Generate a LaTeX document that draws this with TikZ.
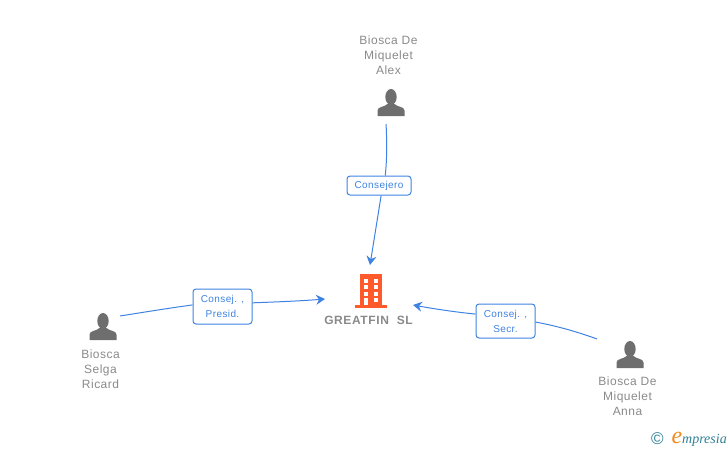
\documentclass[tikz,border=0pt]{standalone}
\usepackage{fontspec}
\setmainfont{Liberation Sans}
\newfontfamily\logofont{Liberation Serif}
\usetikzlibrary{arrows.meta}
\definecolor{linkblue}{HTML}{3F83E2}
\definecolor{namegray}{HTML}{8A8A8A}
\definecolor{icongray}{HTML}{6E6E6E}
\definecolor{towerred}{HTML}{FF5A2C}
\definecolor{logoteal}{HTML}{2F7F96}
\definecolor{logoorange}{HTML}{F08A1D}
\tikzset{
  personname/.style={text=namegray,align=center,inner sep=0pt,font=\fontsize{12}{15}\selectfont\addfontfeature{LetterSpace=4}},
  rolebox/.style={draw=linkblue,fill=white,line width=1pt,rounded corners=3pt,text=linkblue,align=center,inner sep=0pt,font=\fontsize{10}{15}\selectfont\addfontfeature{LetterSpace=4}},
  linkline/.style={draw=linkblue,line width=1pt},
  linkarrow/.style={linkline,-{Stealth[length=9pt,width=10pt,inset=3pt]}},
  pics/personicon/.style={code={
    \fill[icongray] (0,-6) ellipse (5.7 and 8);
    \fill[icongray] (-13.5,13) -- (-13.5,7.5) .. controls (-13.5,3.5) and (-6,4) .. (-3.5,1) -- (3.5,1) .. controls (6,4) and (13.5,3.5) .. (13.5,7.5) -- (13.5,13) -- cycle;
  }}
}
\begin{document}
\begin{tikzpicture}[x=1pt,y=-1pt]
\useasboundingbox (0,0) rectangle (728,450);
% people
\pic at (391,103) {personicon};
\pic at (103,327) {personicon};
\pic at (630,355) {personicon};
\node[personname] (alexname) at (388.5,55) {Biosca De\\Miquelet\\Alex};
\node[personname] (ricardname) at (100.5,369) {Biosca\\Selga\\Ricard};
\node[personname] (annaname) at (627.5,396) {Biosca De\\Miquelet\\Anna};
% company
\fill[towerred] (360,274) rectangle (382,306);
\fill[towerred] (355,305) rectangle (387,308);
\foreach \y in {278.5,285,291.5} {
  \fill[white] (364,\y) rectangle (368,\y+4);
  \fill[white] (373.5,\y) rectangle (378,\y+4);
}
\fill[white] (364,298) rectangle (368,305);
\fill[white] (373.5,298) rectangle (378,302);
\node[text=namegray,inner sep=0pt,font=\fontsize{12}{15}\selectfont\bfseries\addfontfeature{LetterSpace=5}] (greatfin) at (368.5,320) {GREATFIN\ \ SL};
% roles
\node[rolebox,minimum width=64pt,minimum height=19pt] (consejero) at (379,185.5) {Consejero};
\node[rolebox,minimum width=59pt,minimum height=35pt] (presid) at (222.5,306.5) {Consej. ,\\Presid.};
\node[rolebox,minimum width=59pt,minimum height=34pt] (secr) at (505.5,321) {Consej. ,\\Secr.};
% link ends
\coordinate (alexfoot) at (386,124);
\coordinate (ricardfoot) at (120,316);
\coordinate (annafoot) at (597,339);
\coordinate (topin) at (370,265);
\coordinate (leftin) at (325,299);
\coordinate (rightin) at (413,305);
\draw[linkline] (alexfoot) .. controls (387,140) and (387,160) .. (consejero.58);
\draw[linkarrow] (consejero.282) -- (topin);
\draw[linkline] (ricardfoot) .. controls (145,312) and (170,308) .. (presid.177);
\draw[linkarrow] (presid.7) .. controls (275,302) and (300,301) .. (leftin);
\draw[linkline] (annafoot) .. controls (578,332) and (557,326) .. (secr.358);
\draw[linkarrow] (secr.167) .. controls (455,312) and (435,309) .. (rightin);
% logo
\node[text=logoteal,inner sep=0pt,font=\fontsize{17}{17}\selectfont] (copyright) at (657.5,439) {©};
\node[text=logoorange,inner sep=0pt,font=\logofont\fontsize{24}{24}\selectfont\itshape] (logoe) at (677,438) {e};
\node[text=logoteal,inner sep=0pt,anchor=base west,font=\logofont\fontsize{14}{14}\selectfont\itshape] (logotext) at (682,443) {mpresia};
\end{tikzpicture}
\end{document}
